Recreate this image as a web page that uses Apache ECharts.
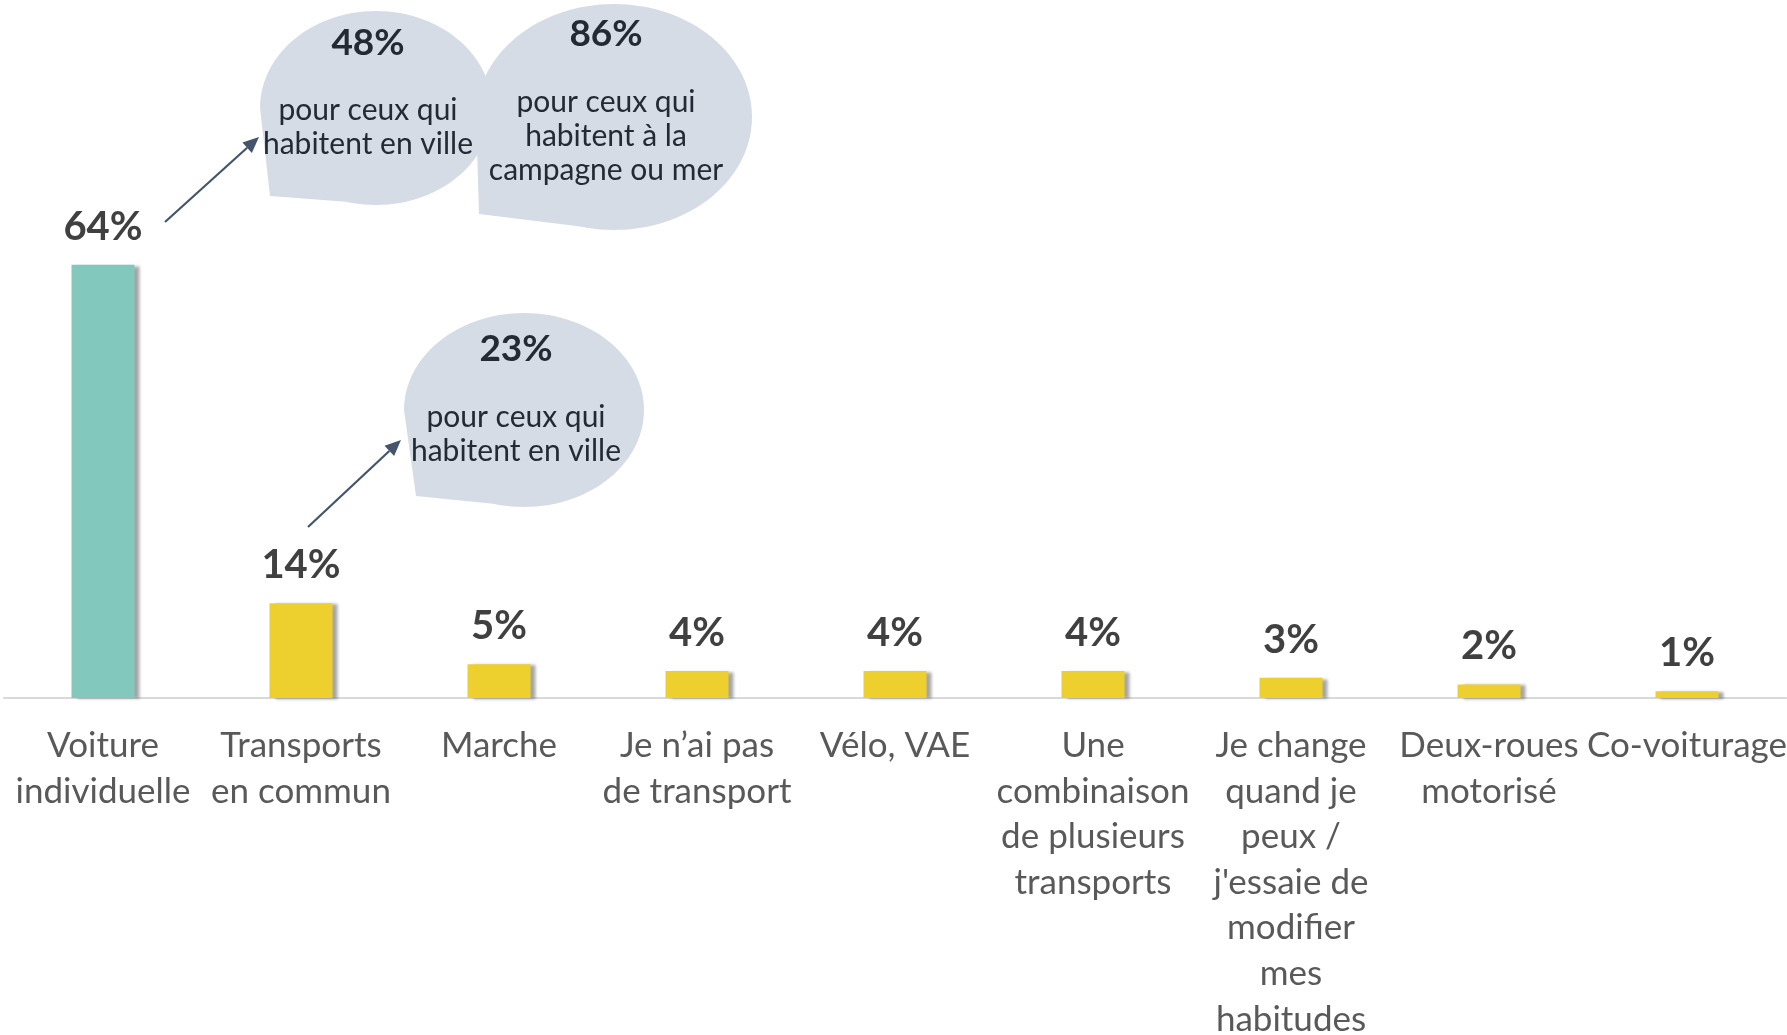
<!DOCTYPE html>
<html>
<head>
<meta charset="utf-8">
<script src="https://cdn.jsdelivr.net/npm/echarts@6/dist/echarts.min.js"></script>
<style>
  html, body { margin: 0; padding: 0; background: #fff; }
  #chart { width: 1787px; height: 1035px; }
</style>
</head>
<body>
<div id="chart"></div>
<script>
// données
var categories = [
    'Voiture\nindividuelle',
    'Transports\nen commun',
    'Marche',
    'Je n\u2019ai pas\nde transport',
    'Vélo, VAE',
    'Une\ncombinaison\nde plusieurs\ntransports',
    'Je change\nquand je\npeux /\nj\'essaie de\nmodifier\nmes\nhabitudes',
    'Deux-roues\nmotorisé',
    'Co-voiturage'
];
var values = [64, 14, 5, 4, 4, 4, 3, 2, 1];
var bubbleValues = ['48%', '86%', '23%'];
var bubbleTexts = [
    'pour ceux qui\nhabitent en ville',
    'pour ceux qui\nhabitent à la\ncampagne ou mer',
    'pour ceux qui\nhabitent en ville'
];

var FONT = 'Lato, "Open Sans", sans-serif';
var TEAL = '#82C8BC';
var YELLOW = '#EDCF2E';
var BUBBLE = '#D6DCE5';
var ARROW = '#44546A';

// bulle ovale avec une pointe en bas à gauche
function bubblePoints(cx, cy, rx, ry, tx, ty, a0, a1){
    var pts = [];
    var tail = false;
    for (var d = 0; d < 360; d += 3){
        if (d > a0 && d < a1){
            if (!tail){ pts.push([tx, ty]); tail = true; }
            continue;
        }
        var r = d * Math.PI / 180;
        pts.push([cx + rx * Math.cos(r), cy + ry * Math.sin(r)]);
    }
    return pts;
}

// flèche : trait + pointe
function arrow(x1, y1, x2, y2){
    var ang = Math.atan2(y2 - y1, x2 - x1);
    var len = 16, half = 7;
    var bx = x2 - len * Math.cos(ang), by = y2 - len * Math.sin(ang);
    var px = -Math.sin(ang) * half, py = Math.cos(ang) * half;
    return [
        { type: 'line', z: 10, shape: { x1: x1, y1: y1, x2: bx, y2: by },
          style: { stroke: ARROW, lineWidth: 2.2 } },
        { type: 'polygon', z: 10, shape: { points: [[x2, y2], [bx + px, by + py], [bx - px, by - py]] },
          style: { fill: ARROW } }
    ];
}

var bubbles = [
    { cx: 376, cy: 108, rx: 116, ry: 97, tx: 270, ty: 196, vy: 43, ty2: 127 },
    { cx: 614, cy: 117, rx: 138, ry: 113, tx: 479, ty: 214, vy: 34, ty2: 136 },
    { cx: 524, cy: 410, rx: 120, ry: 97, tx: 416, ty: 496, vy: 349, ty2: 434 }
];

var graphics = [];
bubbles.forEach(function(b, i){
    graphics.push({
        type: 'polygon', z: 5,
        shape: { points: bubblePoints(b.cx, b.cy, b.rx, b.ry, b.tx, b.ty, 105, 178) },
        style: { fill: BUBBLE }
    });
});
bubbles.forEach(function(b, i){
    graphics.push({
        type: 'text', z: 11,
        style: { text: bubbleValues[i], x: b.cx - 8, y: b.vy, align: 'center', verticalAlign: 'middle',
                 fill: '#222A35', font: 'bold 37px ' + FONT }
    });
    graphics.push({
        type: 'text', z: 11,
        style: { text: bubbleTexts[i], x: b.cx - 8, y: b.ty2, align: 'center', verticalAlign: 'middle',
                 fill: '#222A35', font: '30px ' + FONT, lineHeight: 34 }
    });
});
graphics = graphics.concat(arrow(165, 222, 259, 137));
graphics = graphics.concat(arrow(308, 527, 401, 440));

var myChart = echarts.init(document.getElementById('chart'));
var option = {
    backgroundColor: '#fff',
    animation: false,
    grid: { left: 4, right: 1, top: 224, bottom: 337, containLabel: false, outerBoundsMode: 'none' },
    xAxis: {
        type: 'category',
        data: categories,
        axisTick: { show: false },
        axisLine: { lineStyle: { color: '#D9D9D9', width: 2 } },
        axisLabel: {
            interval: 0,
            margin: 25,
            color: '#595959',
            fontFamily: FONT,
            fontSize: 35,
            lineHeight: 45.6
        }
    },
    yAxis: {
        type: 'value',
        min: 0,
        max: 70,
        show: false
    },
    series: [{
        type: 'bar',
        data: values,
        barWidth: 63,
        itemStyle: {
            color: function(p){ return p.dataIndex === 0 ? TEAL : YELLOW; },
            shadowColor: 'rgba(0,0,0,0.35)',
            shadowBlur: 3,
            shadowOffsetX: 5,
            shadowOffsetY: 1
        },
        label: {
            show: true,
            position: 'top',
            distance: 18,
            formatter: '{c}%',
            color: '#404040',
            fontFamily: FONT,
            fontWeight: 'bold',
            fontSize: 40
        }
    }],
    graphic: graphics
};
myChart.setOption(option);
</script>
</body>
</html>
